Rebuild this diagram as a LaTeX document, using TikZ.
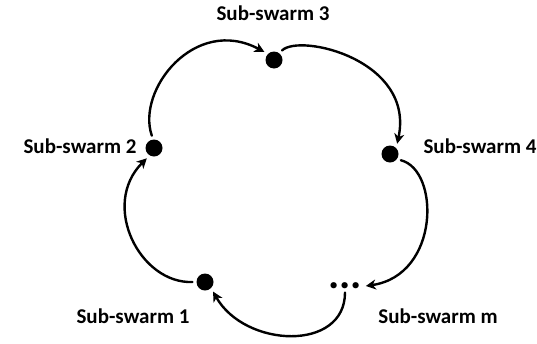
\documentclass[tikz,border=0pt]{standalone}
\usepackage{fontspec}
\setmainfont{Carlito}
\usetikzlibrary{arrows.meta}
\begin{document}
\begin{tikzpicture}[x=1pt,y=-1pt,
  dot/.style={circle,fill=black,inner sep=0pt,minimum size=17pt,outer sep=4pt},
  lbl/.style={font=\fontsize{21}{25}\selectfont\bfseries,inner sep=0pt},
  arr/.style={line width=2.4pt,line cap=round,-{Stealth[length=10pt,width=10pt,inset=3pt]}}]
\useasboundingbox (0,0) rectangle (537,343);
\node[dot] (d1) at (205,282) {};
\node[dot] (d2) at (154,148) {};
\node[dot] (d3) at (274,60) {};
\node[dot] (d4) at (390,154) {};
\node[inner sep=0pt,outer sep=4pt,text height=5pt,text depth=0pt,font=\fontsize{42}{42}\selectfont\bfseries] (dm) at (345,286) {...};
\node[lbl] (l3) at (273,13) {Sub-swarm 3};
\node[lbl] (l2) at (80,146) {Sub-swarm 2};
\node[lbl] (l4) at (480,146) {Sub-swarm 4};
\node[lbl] (l1) at (133,316) {Sub-swarm 1};
\node[lbl] (lm) at (438,316) {Sub-swarm m};
\draw[arr] (d1.180) .. controls (140,284) and (100,205) .. (d2.235);
\draw[arr] (d2.100) .. controls (136,90) and (195,15) .. (d3.140);
\draw[arr] (d3.50) .. controls (300,33) and (415,60) .. (d4.55);
\draw[arr] (d4.-30) .. controls (440,170) and (440,275) .. (dm.east);
\draw[arr] (dm.south) .. controls (345,352) and (245,348) .. (d1.-50);
\end{tikzpicture}
\end{document}
